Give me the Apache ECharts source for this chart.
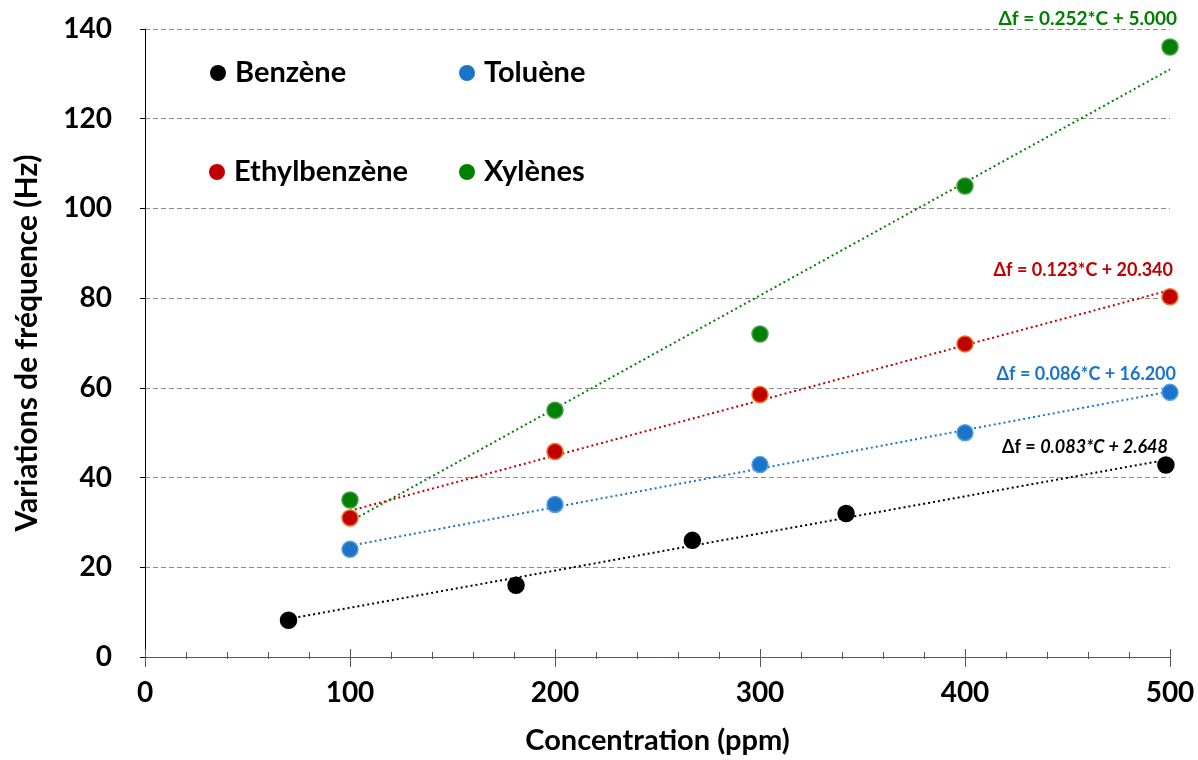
<!DOCTYPE html>
<html><head><meta charset="utf-8">
<script src="https://cdn.jsdelivr.net/npm/echarts@6/dist/echarts.min.js"></script>
<style>html,body{margin:0;padding:0;background:#fff}#c{width:1198px;height:760px}</style>
</head><body><div id="c"></div>
<script>
// ---- data ----
const seriesNames = ['Benzène', 'Toluène', 'Ethylbenzène', 'Xylènes'];
const benzene = [[70, 8.2], [181, 16], [267, 26], [342, 32], [498, 42.8]];
const toluene = [[100, 24], [200, 34], [300, 42.9], [400, 50], [500, 59]];
const ethylbenzene = [[100, 31], [200, 45.8], [300, 58.5], [400, 69.8], [500, 80.3]];
const xylenes = [[100, 35], [200, 55], [300, 72], [400, 105], [500, 136]];
// trend line endpoints
const benzeneTrend = [[70, 8.5], [500, 44.1]];
const tolueneTrend = [[100, 24.8], [500, 59.2]];
const ethylTrend = [[100, 32.6], [500, 81.8]];
const xylTrend = [[100, 30.2], [500, 131]];
const equations = ['0.083*C + 2.648', '0.086*C + 16.200', '0.123*C + 20.340', '0.252*C + 5.000'];
const xTicks = [0, 100, 200, 300, 400, 500];
const yTicks = [0, 20, 40, 60, 80, 100, 120, 140];

const colors = ['#000000', '#1a75c9', '#c00000', '#008000'];
const borders = ['#000000', '#5aa0e0', '#f07020', '#4a9a4a'];
const FONT = 'Lato, "Open Sans", sans-serif';

const chart = echarts.init(document.getElementById('c'), null, {renderer: 'canvas'});
const gridRect = {left: 145, right: 28, top: 29, bottom: 101};
const scatterData = [benzene, toluene, ethylbenzene, xylenes];
const trendData = [benzeneTrend, tolueneTrend, ethylTrend, xylTrend];

const series = [];
trendData.forEach((d, i) => {
  series.push({
    type: 'line', name: seriesNames[i] + ' trend', data: d, xAxisIndex: 0, yAxisIndex: 0,
    symbol: 'none', silent: true, z: 2,
    lineStyle: {color: colors[i], width: 2, type: [2, 3]}
  });
});
scatterData.forEach((d, i) => {
  series.push({
    type: 'scatter', name: seriesNames[i], data: d, xAxisIndex: 0, yAxisIndex: 0,
    symbol: 'circle', symbolSize: 16, z: 3,
    itemStyle: {color: colors[i], borderColor: borders[i], borderWidth: 1.5, opacity: 1}
  });
});

const legendPos = [[205, 52], [454, 52], [204, 151], [454, 151]];
const legends = seriesNames.map((n, i) => ({
  data: [n], left: legendPos[i][0], top: legendPos[i][1], orient: 'horizontal',
  icon: 'circle', itemWidth: 16, itemHeight: 16, itemGap: 10,
  itemStyle: {borderWidth: 0},
  textStyle: {fontFamily: FONT, fontWeight: 'bold', fontSize: 29, lineHeight: 32, color: '#000', padding: [0, 0, 0, 4]}
}));

const eqPos = [[1168, 450], [1176, 377], [1173, 273], [1177, 21]];
const eqSize = [18, 18, 18, 19];
const graphics = equations.map((e, i) => ({
  type: 'text', right: 1198 - eqPos[i][0], top: eqPos[i][1] - 12,
  style: {
    text: i === 0 ? '{a|Δf = }{b|' + e + '}' : 'Δf = ' + e,
    fill: colors[i], font: 'bold ' + eqSize[i] + 'px ' + FONT,
    rich: {a: {fontFamily: FONT, fontWeight: 'bold', fontSize: eqSize[i], fill: colors[0], color: colors[0]},
           b: {fontFamily: FONT, fontWeight: 'bold', fontStyle: 'italic', fontSize: eqSize[i], fill: colors[0], color: colors[0]}}
  }
}));

chart.setOption({
  animation: false,
  backgroundColor: '#fff',
  grid: [Object.assign({}, gridRect), Object.assign({}, gridRect)],
  legend: legends,
  xAxis: [{
    type: 'value', gridIndex: 0, min: xTicks[0], max: xTicks[xTicks.length - 1], interval: 100,
    name: 'Concentration (ppm)', nameLocation: 'middle', nameGap: 69,
    nameTextStyle: {fontFamily: FONT, fontWeight: 'bold', fontSize: 29, color: '#000'},
    axisLine: {show: true, lineStyle: {color: '#595959', width: 1}},
    axisTick: {show: true, inside: false, length: 10, lineStyle: {color: '#595959'}},
    axisLabel: {fontFamily: FONT, fontWeight: 'bold', fontSize: 28, color: '#000', margin: 22},
    splitLine: {show: false}
  }, {
    type: 'value', gridIndex: 1, min: xTicks[0], max: xTicks[xTicks.length - 1], interval: 100,
    axisLine: {show: false},
    axisTick: {show: true, inside: true, length: 10, lineStyle: {color: '#595959'}},
    minorTick: {show: true, splitNumber: 5, length: 7, lineStyle: {color: '#595959'}},
    axisLabel: {show: false}, splitLine: {show: false}
  }],
  yAxis: [{
    type: 'value', gridIndex: 0, min: yTicks[0], max: yTicks[yTicks.length - 1], interval: 20,
    name: 'Variations de fréquence (Hz)', nameLocation: 'middle', nameGap: 103, nameRotate: 90,
    nameTextStyle: {fontFamily: FONT, fontWeight: 'bold', fontSize: 30, color: '#000'},
    axisLine: {show: true, lineStyle: {color: '#000', width: 1}},
    axisTick: {show: true, inside: false, length: 5, lineStyle: {color: '#000'}},
    axisLabel: {fontFamily: FONT, fontWeight: 'bold', fontSize: 28, color: '#000', margin: 33},
    splitLine: {show: true, lineStyle: {color: '#8c8c8c', type: [5, 3], width: 1}}
  }, {
    type: 'value', gridIndex: 1, min: 0, max: 140, interval: 20, show: false
  }],
  graphic: graphics,
  series: series
});
</script></body></html>
